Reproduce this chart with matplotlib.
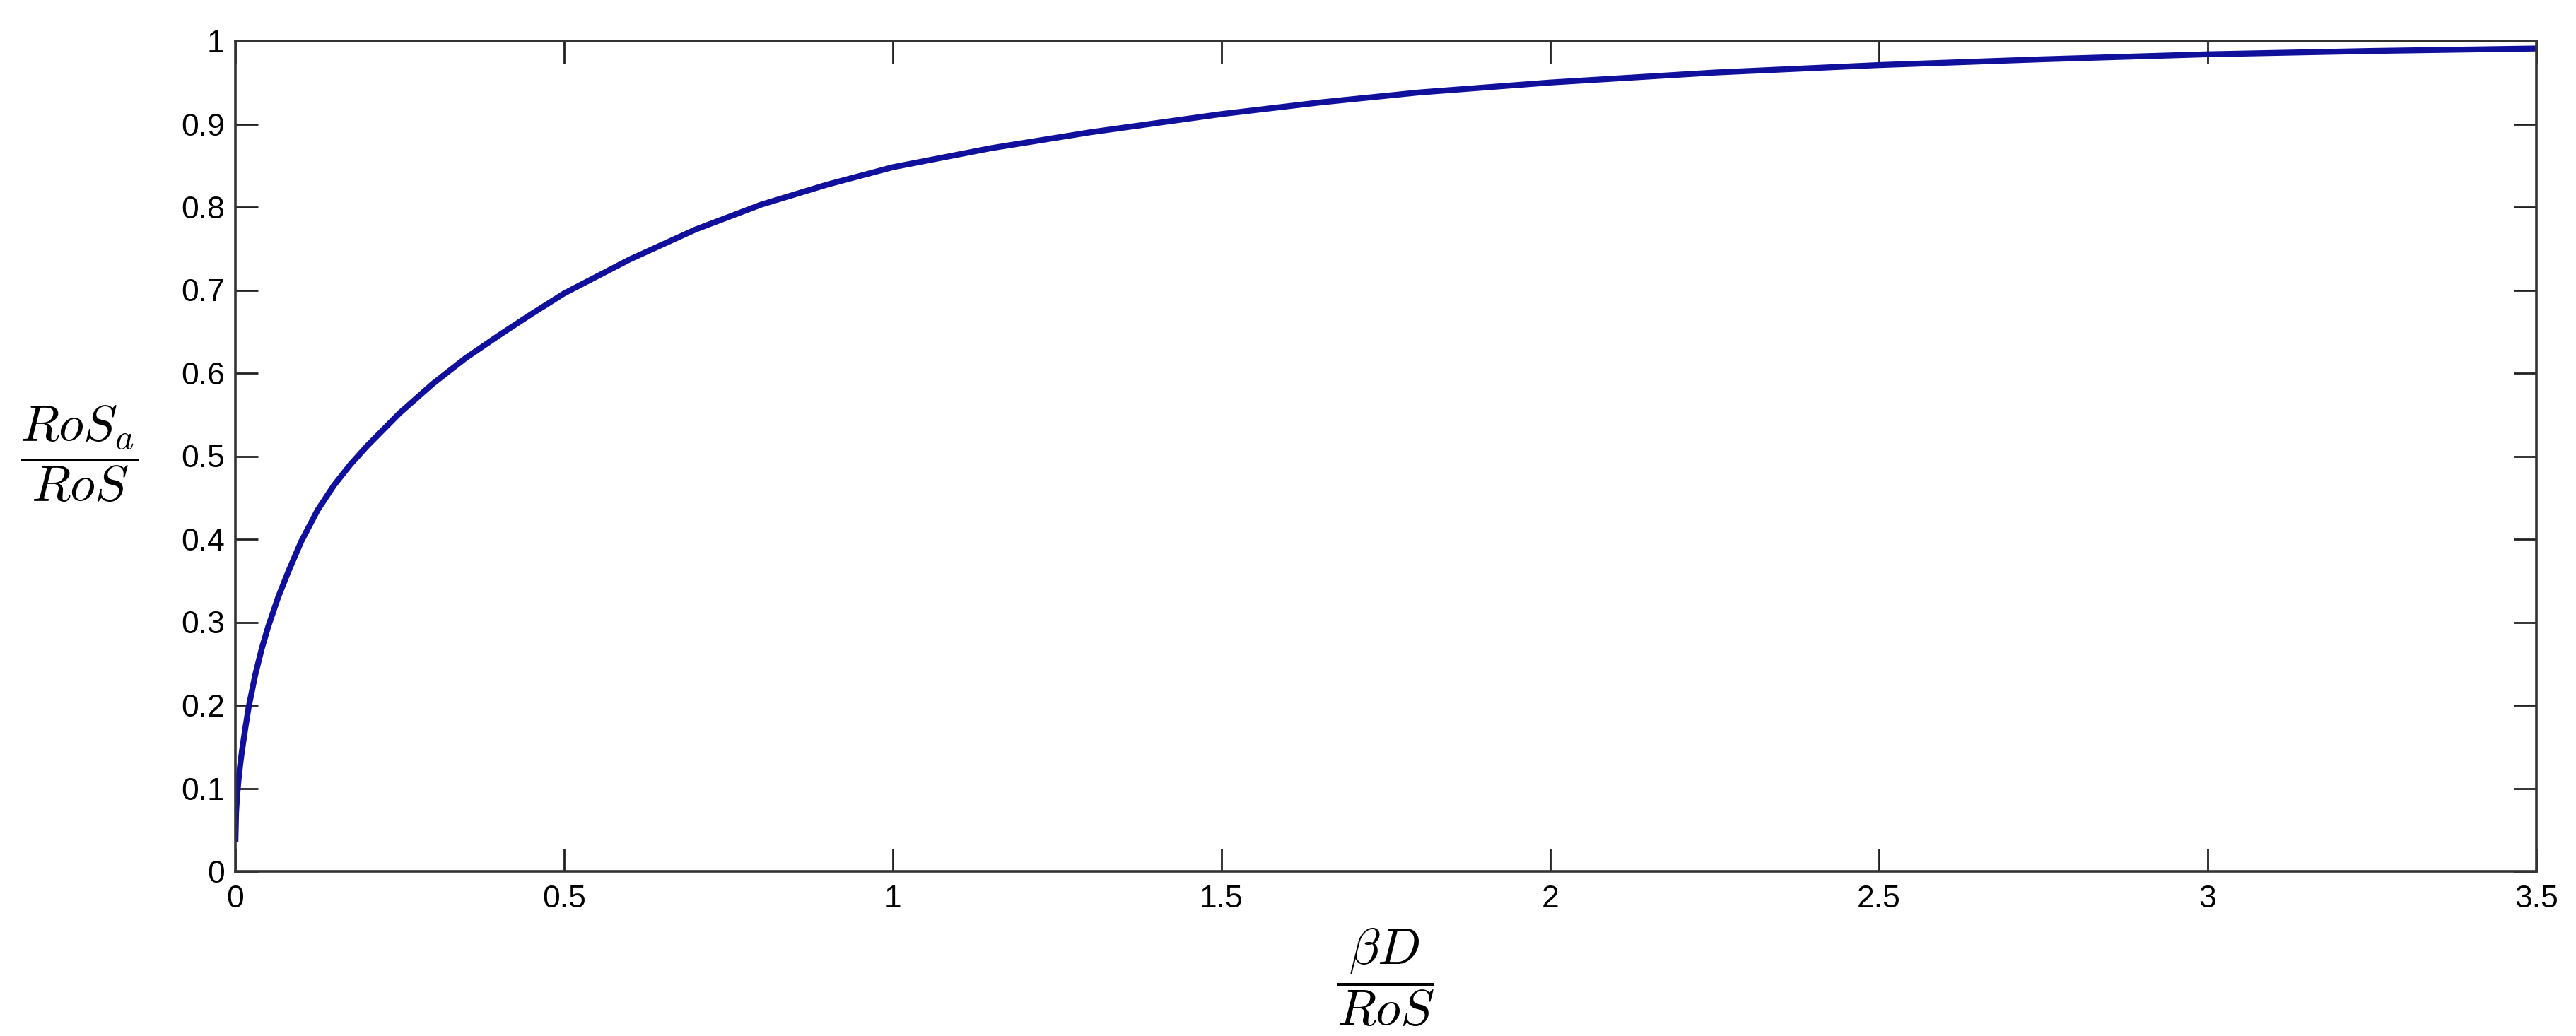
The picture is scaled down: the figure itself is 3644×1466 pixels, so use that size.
import matplotlib
matplotlib.use("Agg")
import matplotlib.pyplot as plt

# Curve
beta_d_ratio = [0.0, 0.001, 0.0025, 0.005, 0.0075, 0.01, 0.015, 0.02, 0.03, 0.04,
                0.05, 0.065, 0.08, 0.1, 0.125, 0.15, 0.175, 0.2, 0.25, 0.3,
                0.35, 0.4, 0.45, 0.5, 0.6, 0.7, 0.8, 0.9, 1.0, 1.15,
                1.3, 1.5, 1.65, 1.8, 2.0, 2.25, 2.5, 2.75, 3.0, 3.25,
                3.5]
ros_ratio = [0.035, 0.07, 0.09, 0.112, 0.13, 0.145, 0.172, 0.197, 0.236, 0.268,
             0.295, 0.33, 0.36, 0.397, 0.435, 0.465, 0.49, 0.512, 0.552, 0.587,
             0.618, 0.645, 0.671, 0.696, 0.737, 0.773, 0.803, 0.827, 0.848, 0.871,
             0.89, 0.912, 0.926, 0.938, 0.95, 0.962, 0.971, 0.978, 0.984, 0.988,
             0.991]

x_ticks = [0, 0.5, 1, 1.5, 2, 2.5, 3, 3.5]
x_tick_labels = ["0", "0.5", "1", "1.5", "2", "2.5", "3", "3.5"]
y_ticks = [0, 0.1, 0.2, 0.3, 0.4, 0.5, 0.6, 0.7, 0.8, 0.9, 1]
y_tick_labels = ["0", "0.1", "0.2", "0.3", "0.4", "0.5", "0.6", "0.7", "0.8", "0.9", "1"]

plt.rcParams["font.family"] = ["Liberation Sans", "DejaVu Sans"]
plt.rcParams["mathtext.fontset"] = "cm"

DPI = 200
fig = plt.figure(figsize=(3644 / DPI, 1466 / DPI), dpi=DPI)
ax = fig.add_axes([333 / 3644, 1 - 1233 / 1466, (3588 - 333) / 3644, (1233 - 58) / 1466])

ax.plot(beta_d_ratio, ros_ratio, color="#10109c", linewidth=3.0,
        solid_joinstyle="round", solid_capstyle="butt")

ax.set_xlim(0, 3.5)
ax.set_ylim(0, 1)
ax.set_xticks(x_ticks)
ax.set_xticklabels(x_tick_labels)
ax.set_yticks(y_ticks)
ax.set_yticklabels(y_tick_labels)

ax.tick_params(axis="both", which="major", direction="in", length=11.5, width=1.0,
               labelsize=16, top=True, right=True, color="#222222")
ax.tick_params(axis="x", pad=7)
ax.tick_params(axis="y", pad=5.5)
for sp in ax.spines.values():
    sp.set_linewidth(1.3)
    sp.set_color("#333333")

ax.set_xlabel(r"$\dfrac{\beta D}{RoS}$", fontsize=26)
ax.xaxis.set_label_coords(0.5, -0.128)
ax.xaxis.label.set_va("center")

ax.set_ylabel(r"$\dfrac{RoS_a}{RoS}$", fontsize=26, rotation=0)
ax.yaxis.set_label_coords(-0.068, 0.503)
ax.yaxis.label.set_va("center")
ax.yaxis.label.set_ha("center")

fig.savefig("out.png", dpi=DPI, facecolor="white")
